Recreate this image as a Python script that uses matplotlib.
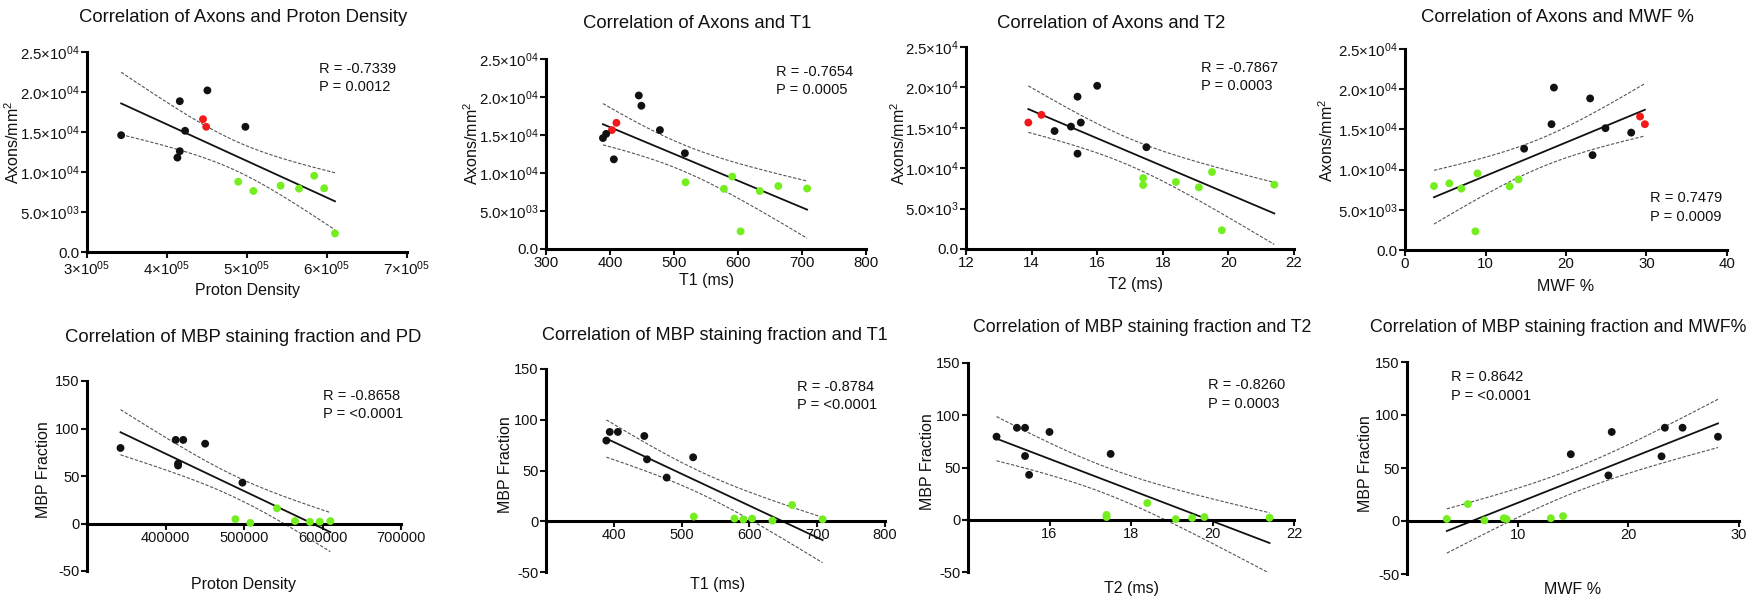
import numpy as np
import matplotlib
matplotlib.use("Agg")
import matplotlib.pyplot as plt
from matplotlib.ticker import FixedLocator, FixedFormatter

plt.rcParams['font.family'] = ['Liberation Sans', 'DejaVu Sans']
plt.rcParams['mathtext.fontset'] = 'custom'
plt.rcParams['mathtext.rm'] = 'Liberation Sans'
plt.rcParams['mathtext.it'] = 'Liberation Sans:italic'
plt.rcParams['mathtext.bf'] = 'Liberation Sans:bold'

# ---------------- data (one entry per sample) ----------------
group = ['red', 'red', 'black', 'black', 'black', 'black', 'black', 'black', 'black',
         'green', 'green', 'green', 'green', 'green', 'green', 'green']
axons = [15650, 16600, 14600, 15150, 18850, 15650, 11800, 20200, 12600,
         8780, 7920, 8290, 7630, 9530, 2320, 7960]
proton_density = [449000, 445000, 342700, 422600, 416000, 498000, 413000, 450500, 416000,
                  489000, 565000, 542000, 508000, 584000, 610000, 596500]
t1_ms = [403, 410, 389, 394, 449, 478, 406, 445, 517,
         518, 578, 663, 634, 591, 604, 708]
t2_ms = [13.9, 14.3, 14.7, 15.2, 15.4, 15.5, 15.4, 16.0, 17.5,
         17.4, 17.4, 18.4, 19.1, 19.5, 19.8, 21.4]
mwf_pct = [29.8, 29.2, 28.1, 24.9, 23.0, 18.2, 23.3, 18.5, 14.8,
           14.1, 13.0, 5.5, 7.0, 9.0, 8.75, 3.6]
mbp_fraction = [np.nan, np.nan, 79.5, 88.0, 61.0, 43.0, 88.0, 84.0, 63.0,
                4.6, 2.6, 16.0, 0.6, 1.7, 2.6, 1.9]

stats_top = [('R = -0.7339', 'P = 0.0012'), ('R = -0.7654', 'P = 0.0005'),
             ('R = -0.7867', 'P = 0.0003'), ('R = 0.7479', 'P = 0.0009')]
stats_bottom = [('R = -0.8658', 'P = <0.0001'), ('R = -0.8784', 'P = <0.0001'),
                ('R = -0.8260', 'P = 0.0003'), ('R = 0.8642', 'P = <0.0001')]

titles_top = ['Correlation of Axons and Proton Density', 'Correlation of Axons and T1',
              'Correlation of Axons and T2', 'Correlation of Axons and MWF %']
titles_bottom = ['Correlation of MBP staining fraction and PD',
                 'Correlation of MBP staining fraction and T1',
                 'Correlation of MBP staining fraction and T2',
                 'Correlation of MBP staining fraction and MWF%']
xlabels = ['Proton Density', 'T1 (ms)', 'T2 (ms)', 'MWF %']

axons_ticks = [0, 5000, 10000, 15000, 20000, 25000]
axons_ticklabels = ['0.0', r'$\mathregular{5.0{\times}10^{03}}$', r'$\mathregular{1.0{\times}10^{04}}$',
                    r'$\mathregular{1.5{\times}10^{04}}$', r'$\mathregular{2.0{\times}10^{04}}$',
                    r'$\mathregular{2.5{\times}10^{04}}$']
axons_ticklabels_short = ['0.0', r'$\mathregular{5.0{\times}10^{3}}$', r'$\mathregular{1.0{\times}10^{4}}$',
                          r'$\mathregular{1.5{\times}10^{4}}$', r'$\mathregular{2.0{\times}10^{4}}$',
                          r'$\mathregular{2.5{\times}10^{4}}$']
pd_ticks_top = [300000, 400000, 500000, 600000, 700000]
pd_ticklabels_top = [r'$\mathregular{3{\times}10^{05}}$', r'$\mathregular{4{\times}10^{05}}$',
                     r'$\mathregular{5{\times}10^{05}}$', r'$\mathregular{6{\times}10^{05}}$',
                     r'$\mathregular{7{\times}10^{05}}$']
t1_ticks_top = [300, 400, 500, 600, 700, 800]
t2_ticks_top = [12, 14, 16, 18, 20, 22]
mwf_ticks_top = [0, 10, 20, 30, 40]

mbp_ticks = [-50, 0, 50, 100, 150]
pd_ticks_bottom = [400000, 500000, 600000, 700000]
t1_ticks_bottom = [400, 500, 600, 700, 800]
t2_ticks_bottom = [16, 18, 20, 22]
mwf_ticks_bottom = [10, 20, 30]

# ---------------- styling ----------------
COLORS = {'red': '#F01A1A', 'black': '#111111', 'green': '#74EE1E'}
W, H = 1753, 603
fig = plt.figure(figsize=(W / 100, H / 100), dpi=100)
T_CRIT = {14: 2.1448, 12: 2.1788}
TITLE_FS_TOP = 13.3
TITLE_FS_BOT = [13.3, 13.1, 12.8, 12.8]
LABEL_FS = 11.5
STAT_FS = 10.5


def add_ax(l, t, r, b):
    return fig.add_axes([l / W, 1 - b / H, (r - l) / W, (b - t) / H])


def style(ax, top_row):
    for s in ['top', 'right']:
        ax.spines[s].set_visible(False)
    for s in ['left', 'bottom']:
        ax.spines[s].set_linewidth(2.2)
        ax.spines[s].set_capstyle('projecting')
    ax.tick_params(direction='out', length=4, width=1.5, labelsize=10.8 if top_row else 10.5,
                   pad=1.2, colors='#111111')
    ax.patch.set_visible(False)


def fit_band(ax, x, y):
    x = np.asarray(x, float)
    y = np.asarray(y, float)
    n = len(x)
    b1, b0 = np.polyfit(x, y, 1)
    xs = np.linspace(x.min(), x.max(), 200)
    yh = b0 + b1 * xs
    resid = y - (b0 + b1 * x)
    s = np.sqrt(np.sum(resid ** 2) / (n - 2))
    sxx = np.sum((x - x.mean()) ** 2)
    se = s * np.sqrt(1 / n + (xs - x.mean()) ** 2 / sxx)
    t = T_CRIT[n - 2]
    ax.plot(xs, yh, color='#111111', lw=1.3, zorder=2)
    for sign in (1, -1):
        ax.plot(xs, yh + sign * t * se, color='#555555', lw=0.8, dashes=(3, 1.5), zorder=2)


def scatter(ax, x, y, g):
    ax.scatter(x, y, s=32, c=[COLORS[k] for k in g], edgecolors='none', zorder=3, clip_on=False)


xs_all = [proton_density, t1_ms, t2_ms, mwf_pct]

# ---------------- top row ----------------
top_boxes = [(87, 52, 407, 252), (546, 59, 866, 249), (966, 47, 1294, 249), (1405, 49, 1727, 250)]
top_xlims = [(300000, 700000), (300, 800), (12, 22), (0, 40)]
top_xticks = [pd_ticks_top, t1_ticks_top, t2_ticks_top, mwf_ticks_top]
top_xticklabels = [pd_ticklabels_top, [str(v) for v in t1_ticks_top],
                   [str(v) for v in t2_ticks_top], [str(v) for v in mwf_ticks_top]]
top_ylabels_sets = [axons_ticklabels, axons_ticklabels, axons_ticklabels_short, axons_ticklabels]
title_pos_top = [(79, 17), (583, 24), (997, 24), (1421, 18)]
xlabel_pos_top = [(247, 291), (707, 280), (1135, 285), (1566, 286)]
ylabel_pos_top = [(13, 142), (472, 143), (899, 143), (1327, 140)]
stat_pos_top = [(319, 69, 87), (776, 72, 90), (1201, 68, 86), (1650, 198, 217)]

for i in range(4):
    ax = add_ax(*top_boxes[i])
    style(ax, True)
    ax.set_xlim(*top_xlims[i])
    ax.set_ylim(0, 25000)
    ax.xaxis.set_major_locator(FixedLocator(top_xticks[i]))
    ax.xaxis.set_major_formatter(FixedFormatter(top_xticklabels[i]))
    ax.yaxis.set_major_locator(FixedLocator(axons_ticks))
    ax.yaxis.set_major_formatter(FixedFormatter(top_ylabels_sets[i]))
    fit_band(ax, xs_all[i], axons)
    scatter(ax, xs_all[i], axons, group)
    fig.text(title_pos_top[i][0] / W, 1 - title_pos_top[i][1] / H, titles_top[i],
             fontsize=TITLE_FS_TOP, ha='left', va='center', color='#111111')
    fig.text(xlabel_pos_top[i][0] / W, 1 - xlabel_pos_top[i][1] / H, xlabels[i],
             fontsize=LABEL_FS, ha='center', va='center', color='#111111')
    fig.text(ylabel_pos_top[i][0] / W, 1 - ylabel_pos_top[i][1] / H, r'Axons/mm$^2$',
             fontsize=LABEL_FS, ha='center', va='center', rotation=90, color='#111111')
    sx, sy1, sy2 = stat_pos_top[i]
    fig.text(sx / W, 1 - sy1 / H, stats_top[i][0], fontsize=STAT_FS, ha='left', va='center', color='#111111')
    fig.text(sx / W, 1 - sy2 / H, stats_top[i][1], fontsize=STAT_FS, ha='left', va='center', color='#111111')

# ---------------- bottom row ----------------
bot_boxes = [(87, 381, 401, 571), (546, 369, 885, 572), (968, 363, 1294, 572), (1407, 362, 1739, 574)]
bot_xlims = [(300000, 700000), (300, 800), (14, 22), (0, 30)]
bot_xticks = [pd_ticks_bottom, t1_ticks_bottom, t2_ticks_bottom, mwf_ticks_bottom]
title_pos_bot = [(65, 338), (542, 335), (973, 328), (1370, 327)]
xlabel_pos_bot = [(243, 585), (718, 585), (1132, 589), (1573, 590)]
ylabel_pos_bot = [(43, 470), (505, 465), (928, 462), (1365, 464)]
stat_pos_bot = [(323, 396, 414), (797, 387, 405), (1208, 385, 404), (1451, 377, 396)]

mask = [g != 'red' for g in group]
mbp_groups = [g for g, m in zip(group, mask) if m]
mbp_vals = [v for v, m in zip(mbp_fraction, mask) if m]

for i in range(4):
    ax = add_ax(*bot_boxes[i])
    style(ax, False)
    ax.set_xlim(*bot_xlims[i])
    ax.set_ylim(-50, 150)
    ax.spines['bottom'].set_position(('data', 0))
    ax.xaxis.set_major_locator(FixedLocator(bot_xticks[i]))
    ax.xaxis.set_major_formatter(FixedFormatter([str(v) for v in bot_xticks[i]]))
    ax.yaxis.set_major_locator(FixedLocator(mbp_ticks))
    ax.yaxis.set_major_formatter(FixedFormatter([str(v) for v in mbp_ticks]))
    xv = [v for v, m in zip(xs_all[i], mask) if m]
    fit_band(ax, xv, mbp_vals)
    scatter(ax, xv, mbp_vals, mbp_groups)
    fig.text(title_pos_bot[i][0] / W, 1 - title_pos_bot[i][1] / H, titles_bottom[i],
             fontsize=TITLE_FS_BOT[i], ha='left', va='center', color='#111111')
    fig.text(xlabel_pos_bot[i][0] / W, 1 - xlabel_pos_bot[i][1] / H, xlabels[i],
             fontsize=LABEL_FS, ha='center', va='center', color='#111111')
    fig.text(ylabel_pos_bot[i][0] / W, 1 - ylabel_pos_bot[i][1] / H, 'MBP Fraction',
             fontsize=LABEL_FS, ha='center', va='center', rotation=90, color='#111111')
    sx, sy1, sy2 = stat_pos_bot[i]
    fig.text(sx / W, 1 - sy1 / H, stats_bottom[i][0], fontsize=STAT_FS, ha='left', va='center', color='#111111')
    fig.text(sx / W, 1 - sy2 / H, stats_bottom[i][1], fontsize=STAT_FS, ha='left', va='center', color='#111111')

fig.savefig('out.png', dpi=100, facecolor='white')
